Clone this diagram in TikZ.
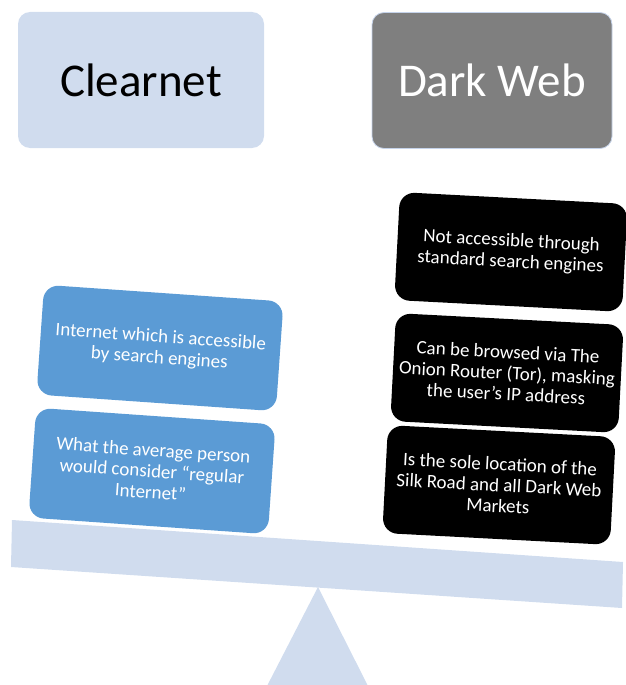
\documentclass[tikz,border=0pt]{standalone}
\usepackage{fontspec}
\setmainfont{Carlito}
\definecolor{paleblue}{HTML}{D0DCEE}
\definecolor{midblue}{HTML}{5B9BD5}
\definecolor{darkgray}{HTML}{7F7F7F}
\definecolor{edgeblue}{HTML}{C5D3EA}
\tikzset{
  titlebox/.style={rounded corners=12pt, minimum width=#1, minimum height=136pt, inner sep=0pt, font=\fontsize{47}{52}\selectfont},
  leftbox/.style={fill=midblue, text=white, rounded corners=15pt, minimum width=240pt, minimum height=110pt, inner sep=4pt, align=center, rotate=-4, font=\fontsize{19}{21}\selectfont},
  rightbox/.style={fill=black, text=white, rounded corners=15pt, minimum width=228pt, minimum height=108pt, inner sep=4pt, align=center, rotate=-3, font=\fontsize{19}{21}\selectfont},
  support/.style={fill=paleblue, draw=none}
}
\begin{document}
\begin{tikzpicture}[x=1pt, y=-1pt]
\useasboundingbox (0,0) rectangle (626,685);
% beam and fulcrum
\fill[support] (318,587) -- (267,686) -- (368,686) -- cycle;
\coordinate (bTL) at (12,520);
\coordinate (bTR) at (623,562);
\coordinate (bBR) at (622,608);
\coordinate (bBL) at (11,567);
\fill[support] (bTL) -- (bTR) -- (bBR) -- (bBL) -- cycle;
% titles
\node[titlebox=246pt, fill=paleblue, text=black] (clear) at (141,80) {Clearnet};
\node[titlebox=240pt, fill=darkgray, draw=edgeblue, line width=0.8pt, text=white] (dark) at (492,80.5) {Dark Web};
% left items
\node[leftbox] (l1) at (160,348) {Internet which is accessible\\by search engines};
\node[leftbox] (l2) at (152,471) {What the average person\\would consider “regular\\Internet”};
% right items
\node[rightbox] (r1) at (511,252) {Not accessible through\\standard search engines};
\node[rightbox] (r2) at (507,373) {Can be browsed via The\\Onion Router (Tor), masking\\the user’s IP address};
\node[rightbox] (r3) at (499,485) {Is the sole location of the\\Silk Road and all Dark Web\\Markets};
\end{tikzpicture}
\end{document}
